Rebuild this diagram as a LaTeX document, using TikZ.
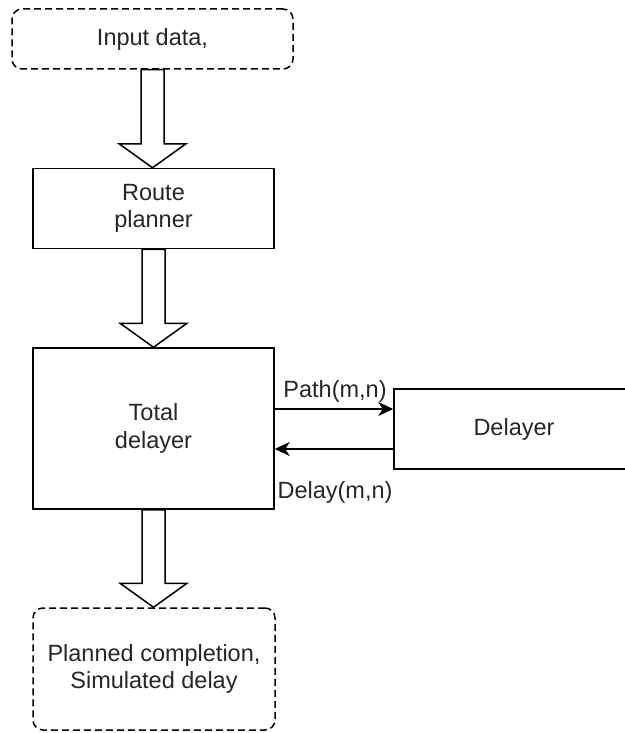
\documentclass[tikz,border=0pt]{standalone}
\usepackage{fontspec}
\setmainfont{Liberation Sans}
\usetikzlibrary{arrows.meta,calc}

\tikzset{
  box/.style={draw, line width=1.5pt, fill=white, align=center, inner sep=0pt,
    text=black!85, font=\fontsize{23.5}{27.5}\selectfont},
  plainbox/.style={box, rectangle},
  termbox/.style={box, rounded corners=10pt, dash pattern=on 7pt off 4pt},
  blockarrow/.style={draw, line width=1.5pt, fill=white, line join=miter},
  sig/.style={draw, line width=1.5pt, -{Stealth[length=15pt,width=14pt,inset=4.5pt]}},
  siglabel/.style={text=black!85, font=\fontsize{23.5}{27.5}\selectfont, inner sep=0pt},
}

% hollow block arrow from the bottom of #1 to the top of #2
\newcommand{\blockarr}[2]{%
  \path[blockarrow] let \p1=(#1.south), \p2=(#2.north) in
    (\x1-11.5pt,\y1) -- (\x1-11.5pt,\y2+24pt) -- (\x1-33.5pt,\y2+24pt) --
    (\x1,\y2) -- (\x1+33.5pt,\y2+24pt) -- (\x1+11.5pt,\y2+24pt) --
    (\x1+11.5pt,\y1) -- cycle;}

\begin{document}
\begin{tikzpicture}[x=1pt,y=-1pt]
  \useasboundingbox (0,0) rectangle (624,733);

  \node[termbox, minimum width=281pt, minimum height=60pt] (in) at (152.5,39) {Input data,};
  \node[plainbox, minimum width=241pt, minimum height=80pt] (rp) at (153.5,208.5) {Route\\planner};
  \node[plainbox, minimum width=241pt, minimum height=161pt] (td) at (153.5,428.5) {Total\\delayer};
  \node[plainbox, minimum width=240pt, minimum height=80pt] (dl) at (514,429) {Delayer};
  \node[termbox, minimum width=242pt, minimum height=122pt] (out) at (154,669)
    {Planned completion,\\Simulated delay};

  \blockarr{in}{rp}
  \blockarr{rp}{td}
  \blockarr{td}{out}

  \coordinate (pa) at ([yshift=19.5pt]td.east);
  \coordinate (da) at ([yshift=-20.5pt]td.east);
  \draw[sig] (pa) -- (pa -| dl.west);
  \draw[sig] (da -| dl.west) -- (da);

  \node[siglabel] (pl) at (335,391) {Path(m,n)};
  \node[siglabel] (dlab) at (335,492) {Delay(m,n)};
\end{tikzpicture}
\end{document}
